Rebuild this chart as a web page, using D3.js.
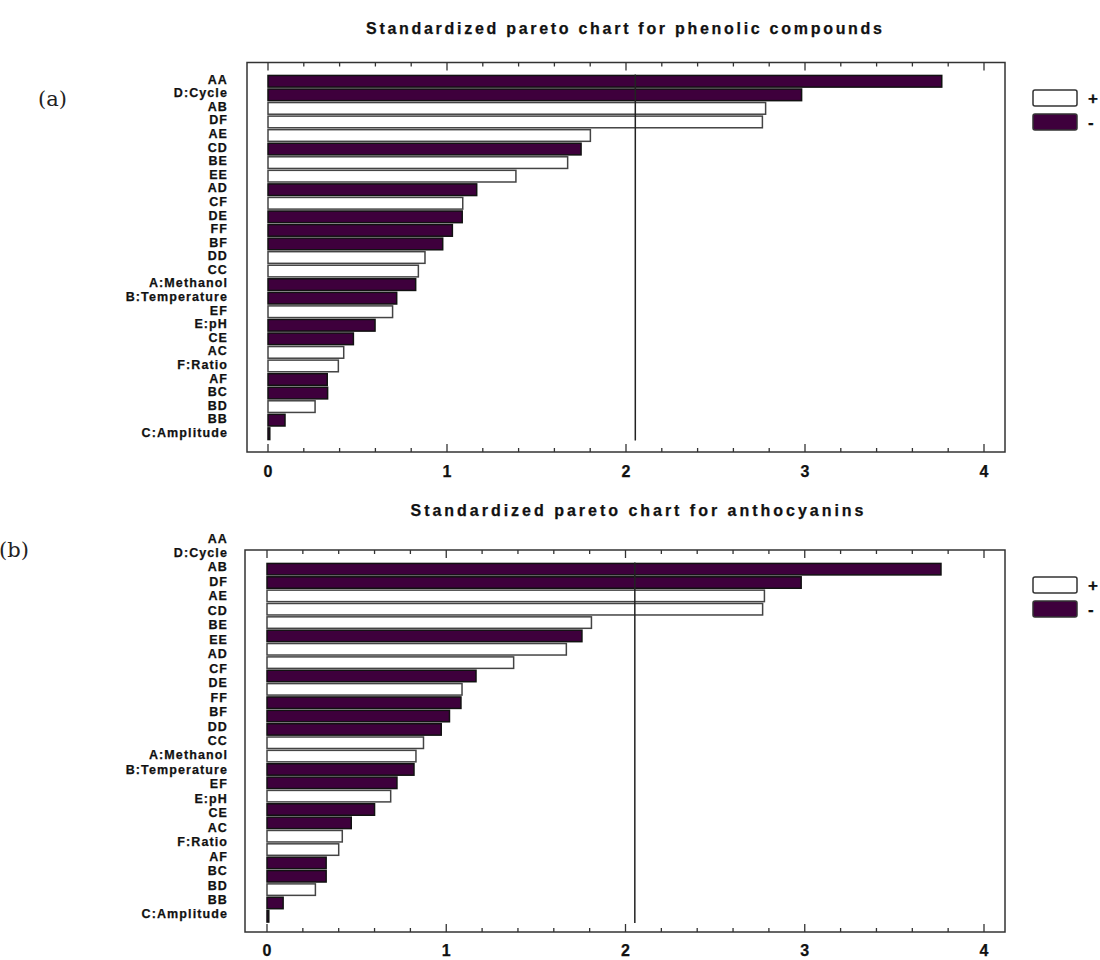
<!DOCTYPE html>
<html>
<head>
<meta charset="utf-8">
<script src="https://cdn.jsdelivr.net/npm/d3@7"></script>
<style>
  html, body { margin: 0; padding: 0; background: #ffffff; }
  svg { display: block; }
  .lab { font-family: "Liberation Sans", Arial, sans-serif; font-weight: bold; stroke: #111; stroke-width: 0.25px; }
</style>
</head>
<body>
<svg id="chart" width="1100" height="960"></svg>
<script>
// ---------- DATA ----------
const factors = ["AA","D:Cycle","AB","DF","AE","CD","BE","EE","AD","CF","DE","FF","BF","DD","CC",
  "A:Methanol","B:Temperature","EF","E:pH","CE","AC","F:Ratio","AF","BC","BD","BB","C:Amplitude"];
const signs = ["-","-","+","+","+","-","+","+","-","+","-","-","-","+","+",
  "-","-","+","-","-","+","+","-","-","+","-","-"];
const phenolicValues = [3.764, 2.981, 2.780, 2.762, 1.801, 1.749, 1.674, 1.385, 1.166, 1.088, 1.085, 1.030, 0.976, 0.877, 0.840,
  0.825, 0.719, 0.696, 0.598, 0.477, 0.423, 0.393, 0.331, 0.333, 0.263, 0.095, 0.010];
const anthocyaninValues = [3.760, 2.980, 2.775, 2.765, 1.810, 1.757, 1.670, 1.376, 1.166, 1.088, 1.082, 1.018, 0.972, 0.873, 0.831,
  0.820, 0.725, 0.690, 0.600, 0.470, 0.420, 0.400, 0.330, 0.330, 0.270, 0.090, 0.010];
const criticalValue = 2.052;
const xTicks = [0, 1, 2, 3, 4];
const legendLabels = ["+", "-"];
const titles = ["Standardized pareto chart for phenolic compounds", "Standardized pareto chart for anthocyanins"];
const panelLabels = ["(a)", "(b)"];

// ---------- STYLE ----------
const PURPLE = "#3e003c";
const svg = d3.select("#chart");

const panels = [
  { values: phenolicValues, title: titles[0], tag: panelLabels[0],
    frame: {x0: 247, x1: 1005, y0: 62.5, y1: 452}, xr: [268, 984],
    bars: [74.5, 440.5], labs: [72.3, 439.3], tickY: 477, titleX: 624, titleY: 34, titleLen: 516,
    tagX: 38, tagY: 106, legY: 90 },
  { values: anthocyaninValues, title: titles[1], tag: panelLabels[1],
    frame: {x0: 245, x1: 1005, y0: 550, y1: 932}, xr: [267, 984],
    bars: [562.5, 923], labs: [530.8, 921.2], tickY: 956, titleX: 637, titleY: 516, titleLen: 453,
    tagX: -1, tagY: 557, legY: 577 }
];

panels.forEach(p => {
  const g = svg.append("g");
  const x = d3.scaleLinear().domain([0, 4]).range(p.xr);
  const yb = d3.scaleBand().domain(factors).range(p.bars).padding(0);
  const yl = d3.scaleBand().domain(factors).range(p.labs).padding(0);
  const data = factors.map((f, i) => ({ f, v: p.values[i], s: signs[i] }));
  const step = yb.step();

  // title
  g.append("text").attr("class", "lab")
    .attr("x", p.titleX).attr("y", p.titleY)
    .attr("text-anchor", "middle")
    .attr("textLength", p.titleLen).attr("lengthAdjust", "spacing")
    .style("font-size", "16px").attr("fill", "#111")
    .text(p.title);

  // panel tag
  g.append("text").attr("x", p.tagX).attr("y", p.tagY)
    .style("font-family", "'DejaVu Serif', 'Liberation Serif', serif")
    .style("font-size", "21px").attr("fill", "#222")
    .text(p.tag);

  // frame
  g.append("rect")
    .attr("x", p.frame.x0).attr("y", p.frame.y0)
    .attr("width", p.frame.x1 - p.frame.x0).attr("height", p.frame.y1 - p.frame.y0)
    .attr("fill", "none").attr("stroke", "#333").attr("stroke-width", 1.5);

  // ticks (major + minor) at top and bottom, pointing inward
  const minor = d3.range(0, 4.0001, 0.2).map(v => +v.toFixed(1));
  minor.forEach(v => {
    const isMajor = Math.abs(v - Math.round(v)) < 1e-6;
    const len = isMajor ? 8 : 4;
    g.append("line").attr("x1", x(v)).attr("x2", x(v))
      .attr("y1", p.frame.y0).attr("y2", p.frame.y0 + len)
      .attr("stroke", "#333").attr("stroke-width", 1.3);
    g.append("line").attr("x1", x(v)).attr("x2", x(v))
      .attr("y1", p.frame.y1).attr("y2", p.frame.y1 - len)
      .attr("stroke", "#333").attr("stroke-width", 1.3);
  });

  // tick labels
  g.selectAll(".tl").data(xTicks).enter().append("text").attr("class", "lab")
    .attr("x", d => x(d)).attr("y", p.tickY)
    .attr("text-anchor", "middle")
    .style("font-size", "16px").attr("fill", "#111")
    .text(d => d);

  // bars
  const inset = step * 0.07;
  g.selectAll(".bar").data(data).enter().append("rect")
    .attr("x", x(0))
    .attr("y", d => yb(d.f) + inset)
    .attr("width", d => Math.max(0.8, x(d.v) - x(0)))
    .attr("height", step - 2 * inset)
    .attr("fill", d => d.s === "+" ? "#ffffff" : PURPLE)
    .attr("stroke", d => d.s === "+" ? "#444" : "#111")
    .attr("stroke-width", 1.5);

  // critical line
  g.append("line")
    .attr("x1", x(criticalValue)).attr("x2", x(criticalValue))
    .attr("y1", p.bars[0]).attr("y2", p.bars[1])
    .attr("stroke", "#222").attr("stroke-width", 1.5);

  // factor labels
  g.selectAll(".fl").data(data).enter().append("text").attr("class", "lab")
    .attr("x", 228).attr("y", d => yl(d.f) + yl.step() / 2)
    .attr("dy", "0.36em")
    .attr("text-anchor", "end")
    .style("font-size", "12.5px").style("letter-spacing", "1.1px").attr("fill", "#111")
    .text(d => d.f);

  // legend
  legendLabels.forEach((lab, i) => {
    const ly = p.legY + i * 24;
    g.append("rect").attr("x", 1033).attr("y", ly).attr("width", 44).attr("height", 16)
      .attr("rx", 2).attr("ry", 2)
      .attr("fill", lab === "+" ? "#ffffff" : PURPLE)
      .attr("stroke", "#333").attr("stroke-width", 1.5);
    g.append("text").attr("class", "lab").attr("x", 1088).attr("y", ly + 8)
      .attr("dy", "0.36em").style("font-size", "17px").attr("fill", "#111")
      .text(lab);
  });
});
</script>
</body>
</html>
